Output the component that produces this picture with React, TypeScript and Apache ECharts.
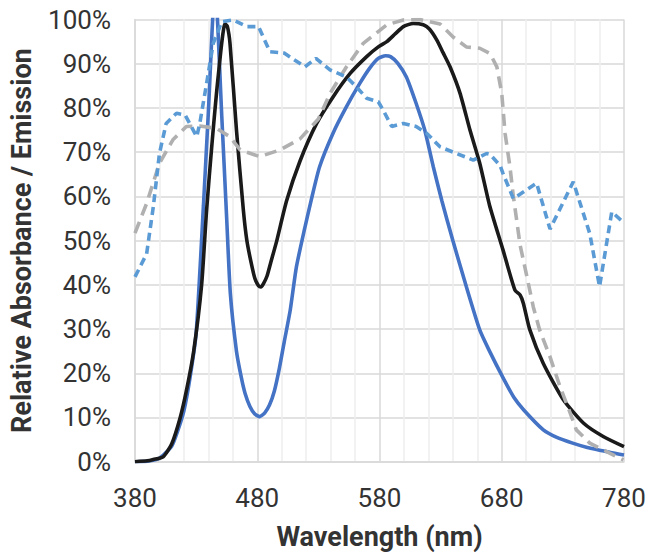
import React, { useEffect, useRef } from "react";
import * as echarts from "echarts";

const xTickLabels = [380, 480, 580, 680, 780];
const yTickLabels = [0, 10, 20, 30, 40, 50, 60, 70, 80, 90, 100];

const blueSolid: [number, number][] = [
  [380, 0], [390, 0.1], [400, 0.8], [410, 3.5], [415, 7], [420, 11.5], [425, 19], [430, 29],
  [436, 58], [440, 79], [445.5, 108], [451, 78], [455, 55], [458, 38], [463, 25], [467, 19],
  [470, 15.5], [474, 12.5], [478, 10.8], [482, 10.2], [486, 11], [490, 12.8], [494, 16],
  [498, 21], [502, 27], [507, 34.3], [512, 44], [519, 53], [524, 59], [531, 66.7], [542, 74.3],
  [553, 80.3], [564, 85.6], [572, 89], [579, 91.2], [585, 91.8], [589, 91.6], [595, 90.1],
  [602, 87], [610, 81], [617, 75], [624, 66.7], [631, 59], [640, 50], [651, 39.6], [662, 29.8],
  [670, 25], [681, 19], [690, 14.5], [698, 11.7], [714, 7.2], [725, 5.5], [738, 4.2],
  [750, 3.2], [760, 2.6], [770, 2], [780, 1.5],
];

const blackSolid: [number, number][] = [
  [380, 0], [390, 0.2], [395, 0.5], [403, 1.1], [410, 4], [417, 10], [422, 16], [428, 25],
  [434.5, 40], [438.6, 57], [443, 72], [448, 87], [453.6, 99], [455.5, 98.5], [457.7, 94.6],
  [463, 75], [468.6, 57], [471.5, 50], [475, 45], [478, 41.5], [481, 39.8], [483, 39.5],
  [485, 40.2], [488, 42], [491, 45], [496, 50], [504, 59], [515, 68], [528.6, 76.5],
  [542, 82.5], [556, 87.8], [569.5, 91.6], [579, 93.8], [586, 95], [593, 96.8], [599.5, 98.4],
  [607.6, 99.1], [615.8, 98.8], [621, 97.8], [626.8, 95.4], [632, 92.5], [637.7, 89.3],
  [645.9, 83.3], [654, 75], [662, 67.5], [670, 58], [681, 47.9], [690.8, 38.8], [695, 37.7],
  [697.7, 35.8], [703, 29.8], [714, 22.2], [730.4, 14], [747, 8.7], [763, 5.7], [780, 3.4],
];

const grayDashed: [number, number][] = [
  [380, 51.7], [389.5, 58.4], [400, 67.5], [411, 72.8], [422, 75.8], [433, 75.9],
  [446.6, 75.4], [457.5, 73.5], [466, 70.5], [482, 69], [498.6, 70.5], [515, 73],
  [530, 77.5], [540, 83.5], [553, 89.3], [566.7, 94.6], [586, 98.8], [599.5, 99.9],
  [613, 100], [629.5, 99], [640.4, 96], [651, 93.8], [662, 93.5], [670.4, 92.3],
  [676, 89.3], [680, 83.3], [682.7, 74.3], [686.7, 66.7], [689.5, 60], [695, 49],
  [700, 42.6], [705.8, 35], [711, 29.8], [719.5, 23.7], [727.6, 17], [736, 11],
  [741, 7.2], [752, 4.2], [768.6, 1.9], [779.5, 0.4],
];

const lightBlueDashed: [number, number][] = [
  [380, 41.8], [389.5, 47], [395, 57.7], [400, 69.7], [405.5, 76.5], [414, 78.8],
  [421, 78.4], [430.5, 73.5], [433, 76.5], [438.6, 85.6], [444, 94.6], [451, 99.5],
  [460.4, 99.9], [471.4, 98.4], [481, 98.4], [490.4, 92.7], [502, 92.4], [519, 89.3],
  [528, 91.2], [539.5, 88.6], [553, 87], [561, 84.8], [569.5, 82.2], [579, 81.4],
  [583, 79.5], [590, 75.8], [599.5, 76.5], [610, 75.8], [618.5, 74.3], [629.5, 71.2],
  [643, 69.7], [656.7, 68.2], [667.6, 69.7], [670.4, 69.5], [678.6, 67], [681, 65.2],
  [689.5, 59.5], [708.5, 63], [719.5, 52.6], [738.5, 63.3], [752, 51.6], [760, 39.6],
  [770, 56.5], [780, 54],
];

const FONT = "Roboto";
const TEXT = "#333333";

export default function App() {
  const ref = useRef<HTMLDivElement>(null);
  useEffect(() => {
    if (!ref.current) return;
    const chart = echarts.init(ref.current, undefined, { renderer: "svg" });
    chart.setOption({
      animation: false,
      backgroundColor: "#ffffff",
      grid: {
        left: 135,
        right: 23,
        top: 19.5,
        bottom: 90.3,
        containLabel: false,
        outerBoundsMode: "none",
      },
      xAxis: {
        type: "value",
        min: xTickLabels[0],
        max: xTickLabels[xTickLabels.length - 1],
        interval: 100,
        name: "Wavelength (nm)",
        nameLocation: "middle",
        nameGap: 62,
        nameTextStyle: { fontFamily: FONT, fontSize: 27, fontWeight: "bold", color: TEXT },
        axisLine: { show: true, lineStyle: { color: "#d9d9d9", width: 1.5 } },
        axisTick: { show: false },
        axisLabel: {
          margin: 23,
          fontFamily: FONT,
          fontSize: 26,
          color: TEXT,
          formatter: (v: number) => (xTickLabels.includes(v) ? String(v) : ""),
        },
        splitLine: { show: true, lineStyle: { color: "#d9d9d9", width: 1.5 } },
        minorTick: { show: false, splitNumber: 5 },
        minorSplitLine: { show: true, lineStyle: { color: "#eeeeee", width: 1.5 } },
      },
      yAxis: {
        type: "value",
        min: yTickLabels[0],
        max: yTickLabels[yTickLabels.length - 1],
        interval: 10,
        name: "Relative Absorbance / Emission",
        nameLocation: "middle",
        nameGap: 100,
        nameTextStyle: { fontFamily: FONT, fontSize: 27, fontWeight: "bold", color: TEXT },
        axisLine: { show: true, lineStyle: { color: "#d9d9d9", width: 1.5 } },
        axisTick: { show: false },
        axisLabel: {
          margin: 24,
          fontFamily: FONT,
          fontSize: 26,
          color: TEXT,
          formatter: "{value}%",
        },
        splitLine: { show: true, lineStyle: { color: "#d9d9d9", width: 1.5 } },
      },
      series: [
        {
          type: "line",
          data: blueSolid,
          showSymbol: false,
          smooth: 0.2,
          clip: true,
          lineStyle: { color: "#4472C4", width: 3.6 },
          z: 2,
        },
        {
          type: "line",
          data: blackSolid,
          showSymbol: false,
          smooth: 0.2,
          clip: true,
          lineStyle: { color: "#1a1a1a", width: 3.6 },
          z: 3,
        },
        {
          type: "line",
          data: grayDashed,
          showSymbol: false,
          clip: true,
          lineStyle: { color: "#b0b0b0", width: 3.6, type: [12, 7] },
          z: 4,
        },
        {
          type: "line",
          data: lightBlueDashed,
          showSymbol: false,
          clip: true,
          lineStyle: { color: "#5B9BD5", width: 3.6, type: [8, 5] },
          z: 5,
        },
      ],
    });
    return () => chart.dispose();
  }, []);
  return (
    <div
      ref={ref}
      style={{ position: "fixed", left: 0, top: 0, width: 647, height: 552, background: "#fff" }}
    />
  );
}
